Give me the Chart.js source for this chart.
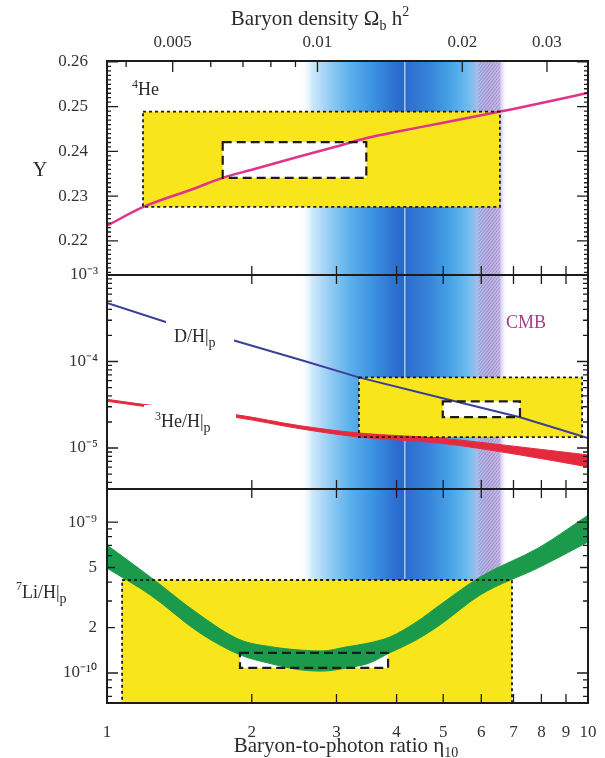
<!DOCTYPE html>
<html>
<head>
<meta charset="utf-8">
<script src="https://cdn.jsdelivr.net/npm/chart.js@4/dist/chart.umd.min.js"></script>
<style>
  html, body { margin: 0; padding: 0; background: #fff; }
  #wrap { position: relative; width: 605px; height: 758px; }
</style>
</head>
<body>
<div id="wrap"><canvas id="bbn" width="605" height="758"></canvas></div>
<script>
const FONT = "'Liberation Serif', 'Times New Roman', serif";

// axes
const etaTicks = [1, 2, 3, 4, 5, 6, 7, 8, 9, 10];
const omegaTicks = [0.005, 0.01, 0.02, 0.03];
const omegaMinor = [0.004, 0.006, 0.007, 0.008, 0.009];
const heTicks = [0.22, 0.23, 0.24, 0.25, 0.26];
const dTicks = [1e-3, 1e-4, 1e-5];
const liTicks = [1e-9, 5e-10, 2e-10, 1e-10];
const liTickLabels = ['10⁻⁹', '5', '2', '10⁻¹⁰'];

// 4He mass fraction
const heEta = [1, 1.19, 1.5, 1.74, 2, 2.5, 3, 3.47, 4, 5, 6, 7, 8, 9, 10];
const heY = [0.2234, 0.2276, 0.2315, 0.2341, 0.2359, 0.2388, 0.2411, 0.2430, 0.2444, 0.2464, 0.2481, 0.2495, 0.2508, 0.2520, 0.2531];

// D/H
const dEta = [1, 1.32, 1.845, 2.52, 3.34, 4.99, 7.22, 10];
const dH = [4.76e-4, 2.88e-4, 1.74e-4, 1.05e-4, 6.55e-5, 3.76e-5, 2.27e-5, 1.30e-5];

// 3He/H band
const he3Eta = [1, 1.188, 1.863, 2.52, 3.34, 4.92, 7.22, 10];
const he3Hi = [3.66e-5, 3.20e-5, 2.42e-5, 1.81e-5, 1.49e-5, 1.30e-5, 1.03e-5, 8.32e-6];
const he3Lo = [3.47e-5, 3.04e-5, 2.25e-5, 1.67e-5, 1.34e-5, 1.14e-5, 8.32e-6, 6.05e-6];

// 7Li/H band
const liEta = [1, 1.23, 1.56, 1.89, 2.2, 2.52, 2.8, 3.15, 3.5, 3.87, 4.4, 4.92, 5.97, 7.94, 10];
const liHi = [7.04e-10, 4.33e-10, 2.42e-10, 1.66e-10, 1.49e-10, 1.42e-10, 1.40e-10, 1.49e-10, 1.58e-10, 1.73e-10, 2.18e-10, 2.82e-10, 4.33e-10, 6.82e-10, 1.11e-9];
const liLo = [4.95e-10, 3.29e-10, 1.84e-10, 1.32e-10, 1.15e-10, 1.05e-10, 1.03e-10, 1.08e-10, 1.16e-10, 1.36e-10, 1.66e-10, 2.08e-10, 3.29e-10, 5.03e-10, 7.38e-10];

// observation boxes (yellow) and fit boxes (dashed)
const heObsEta = [1.188, 6.56], heObsY = [0.2276, 0.2489];
const heFitEta = [1.74, 3.46], heFitY = [0.2341, 0.2421];
const dObsEta = [3.34, 9.72], dObsY = [1.34e-5, 6.55e-5];
const dFitEta = [4.99, 7.22], dFitY = [2.27e-5, 3.47e-5];
const liObsEta = [1.075, 6.95], liObsY = [6.33e-11, 4.13e-10];
const liFitEta = [1.89, 3.84], liFitY = [1.08e-10, 1.36e-10];

// concordance band and CMB
const bandEta = [2.52, 6.79];
const cmbEta = [5.91, 6.56];
const bandPeakEta = 4.16;

const pts = (xs, ys) => xs.map((v, i) => ({x: v, y: ys[i]}));
const SUP = {'-': '⁻', '0': '⁰', '1': '¹', '2': '²', '3': '³', '4': '⁴', '5': '⁵', '6': '⁶', '7': '⁷', '8': '⁸', '9': '⁹'};
const sup = n => String(n).split('').map(c => SUP[c]).join('');

function drawRich(ctx, parts, x, y, align) {
    let w = 0;
    parts.forEach(p => { ctx.font = p[1] + 'px ' + FONT; w += ctx.measureText(p[0]).width; });
    let cx = align === 'center' ? x - w / 2 : x;
    parts.forEach(p => {
        ctx.font = p[1] + 'px ' + FONT;
        ctx.fillText(p[0], cx, y + (p[2] || 0));
        cx += ctx.measureText(p[0]).width;
    });
    return w;
}

function boxPix(xs, ey, ex, ey2) {
    const l = xs.getPixelForValue(ex[0]), r = xs.getPixelForValue(ex[1]);
    const b = ey.getPixelForValue(ey2[0]), t = ey.getPixelForValue(ey2[1]);
    return {l, r, t, b};
}

const decor = {
    id: 'decor',
    beforeDatasetsDraw(chart) {
        const {ctx, chartArea: a, scales: {x, y1, y2, y3}} = chart;
        ctx.save();

        // blue concordance band
        const x0 = x.getPixelForValue(bandEta[0]), x1 = x.getPixelForValue(bandEta[1]);
        const g = ctx.createLinearGradient(x0, 0, x1, 0);
        const stops = [
            [2.52, 'rgba(255,255,255,0)'], [2.67, '#cde8fb'], [2.91, '#93ccf4'], [3.2, '#5cb0eb'],
            [3.61, '#3a8fe0'], [3.97, '#2d70d0'], [4.12, '#2b67cb'], [4.2, '#2e6dcf'],
            [4.69, '#3684d9'], [5.16, '#47a2e6'], [5.63, '#6dbcef'], [5.91, '#a9bde9'],
            [6.2, '#b9ade0'], [6.56, '#c6bce6'], [6.79, 'rgba(255,255,255,0)']
        ];
        stops.forEach(([e, c]) => g.addColorStop((x.getPixelForValue(e) - x0) / (x1 - x0), c));
        ctx.fillStyle = g;
        ctx.fillRect(x0, a.top, x1 - x0, a.bottom - a.top);

        // CMB hatch
        const h0 = x.getPixelForValue(cmbEta[0]), h1 = x.getPixelForValue(cmbEta[1]);
        ctx.save();
        ctx.beginPath(); ctx.rect(h0, a.top, h1 - h0, a.bottom - a.top); ctx.clip();
        ctx.strokeStyle = 'rgba(130,110,185,0.5)'; ctx.lineWidth = 1;
        ctx.beginPath();
        for (let k = a.top - 40; k < a.bottom + 40; k += 4) {
            ctx.moveTo(h0 - 5, k + 20); ctx.lineTo(h1 + 5, k - 20);
        }
        ctx.stroke();
        ctx.restore();

        // thin central line
        const pc = x.getPixelForValue(bandPeakEta);
        ctx.strokeStyle = '#a5c8f0'; ctx.lineWidth = 1.5;
        ctx.beginPath(); ctx.moveTo(pc, a.top); ctx.lineTo(pc, a.bottom); ctx.stroke();

        // yellow observation boxes
        ctx.fillStyle = '#f8e51c';
        [[y1, heObsEta, heObsY], [y2, dObsEta, dObsY], [y3, liObsEta, liObsY]].forEach(([s, ex, ey]) => {
            const b = boxPix(x, s, ex, ey);
            ctx.fillRect(b.l, b.t, b.r - b.l, b.b - b.t);
        });
        // white inner boxes
        ctx.fillStyle = '#ffffff';
        [[y1, heFitEta, heFitY], [y2, dFitEta, dFitY], [y3, liFitEta, liFitY]].forEach(([s, ex, ey]) => {
            const b = boxPix(x, s, ex, ey);
            ctx.fillRect(b.l, b.t, b.r - b.l, b.b - b.t);
        });
        ctx.restore();
    },
    afterDatasetsDraw(chart) {
        const {ctx, chartArea: a, scales: {x, x2, y1, y2, y3}} = chart;
        ctx.save();
        ctx.strokeStyle = '#1c1c1c';

        // dotted borders of observation boxes
        ctx.lineWidth = 1.8; ctx.setLineDash([3, 3]);
        [[y1, heObsEta, heObsY], [y2, dObsEta, dObsY], [y3, liObsEta, liObsY]].forEach(([s, ex, ey]) => {
            const b = boxPix(x, s, ex, ey);
            ctx.strokeRect(b.l, b.t, b.r - b.l, b.b - b.t);
        });
        // dashed fit boxes
        ctx.lineWidth = 2.2; ctx.setLineDash([9, 5]);
        [[y1, heFitEta, heFitY], [y2, dFitEta, dFitY], [y3, liFitEta, liFitY]].forEach(([s, ex, ey]) => {
            const b = boxPix(x, s, ex, ey);
            ctx.strokeRect(b.l, b.t, b.r - b.l, b.b - b.t);
        });
        ctx.setLineDash([]);

        // panel frames
        ctx.lineWidth = 2;
        [y1, y2, y3].forEach(s => ctx.strokeRect(a.left, s.top, a.right - a.left, s.bottom - s.top));

        // inward ticks
        ctx.lineWidth = 1.3;
        ctx.beginPath();
        const hTick = (py, len) => { ctx.moveTo(a.left, py); ctx.lineTo(a.left + len, py); ctx.moveTo(a.right, py); ctx.lineTo(a.right - len, py); };
        [y1, y2, y3].forEach((s, i) => {
            etaTicks.slice(1, -1).forEach(v => {
                const px = x.getPixelForValue(v);
                ctx.moveTo(px, s.bottom); ctx.lineTo(px, s.bottom - 9);
                if (i > 0) { ctx.moveTo(px, s.top); ctx.lineTo(px, s.top + 9); }
            });
        });
        omegaTicks.forEach(v => { const px = x2.getPixelForValue(v); ctx.moveTo(px, a.top); ctx.lineTo(px, a.top + 11); });
        omegaMinor.forEach(v => { const px = x2.getPixelForValue(v); ctx.moveTo(px, a.top); ctx.lineTo(px, a.top + 6); });
        for (let k = 213; k <= 260; k++) {
            hTick(y1.getPixelForValue(k / 1000), k % 10 === 0 ? 11 : 4);
        }
        for (let e = -6; e <= -3; e++) {
            for (let m = 1; m <= 9; m++) {
                const v = m * Math.pow(10, e);
                if (v >= y2.min && v <= y2.max * 1.0001) hTick(y2.getPixelForValue(v), m === 1 ? 11 : 5);
            }
        }
        for (let e = -11; e <= -9; e++) {
            for (let m = 1; m <= 9; m++) {
                const v = m * Math.pow(10, e);
                if (v >= y3.min && v <= y3.max) hTick(y3.getPixelForValue(v), m === 1 ? 11 : (m === 2 || m === 5) ? 8 : 5);
            }
        }
        ctx.stroke();

        // curve labels with white backing
        ctx.fillStyle = '#2a2a2a';
        ctx.textBaseline = 'alphabetic';
        ctx.save();
        ctx.fillStyle = '#fff';
        ctx.fillRect(166, 320, 68, 34);
        ctx.fillRect(144, 405, 92, 32);
        ctx.restore();
        drawRich(ctx, [['D/H', 18], ['|', 18], ['p', 14, 5]], 174, 342);
        drawRich(ctx, [['3', 12, -7], ['He/H', 18], ['|', 18], ['p', 14, 5]], 155, 427);
        drawRich(ctx, [['4', 12, -7], ['He', 18]], 132, 95);
        ctx.fillStyle = '#a83c86';
        drawRich(ctx, [['CMB', 18]], 506, 328);

        // axis titles
        ctx.fillStyle = '#2a2a2a';
        drawRich(ctx, [['Y', 20]], 40, 176, 'center');
        drawRich(ctx, [['7', 12, -8], ['Li/H', 18], ['|', 18], ['p', 14, 5]], 16, 598);
        drawRich(ctx, [['Baryon density Ω', 21], ['b', 14, 5], [' h', 21], ['2', 14, -9]], 320, 25, 'center');
        drawRich(ctx, [['Baryon-to-photon ratio η', 21], ['10', 14, 5]], 346, 752, 'center');
        ctx.restore();
    }
};

const tickFont = {family: FONT, size: 17};
const yBase = {
    position: 'left', stack: 'bbn', stackWeight: 1,
    grid: {display: false}, border: {display: false},
    afterFit: s => { s.width = 107; }
};

new Chart(document.getElementById('bbn'), {
    type: 'line',
    data: {
        datasets: [
            {label: '4He', data: pts(heEta, heY), yAxisID: 'y1', borderColor: '#e0338a', borderWidth: 2.5, cubicInterpolationMode: 'monotone'},
            {label: 'D/H', data: pts(dEta, dH), yAxisID: 'y2', borderColor: '#3c3f98', borderWidth: 2},
            {label: '3He/H low', data: pts(he3Eta, he3Lo), yAxisID: 'y2', borderColor: '#e62a3e', borderWidth: 1, cubicInterpolationMode: 'monotone'},
            {label: '3He/H high', data: pts(he3Eta, he3Hi), yAxisID: 'y2', borderColor: '#e62a3e', borderWidth: 1, cubicInterpolationMode: 'monotone', fill: '-1', backgroundColor: '#e62a3e'},
            {label: '7Li/H low', data: pts(liEta, liLo), yAxisID: 'y3', borderColor: '#1b9a4b', borderWidth: 1, cubicInterpolationMode: 'monotone'},
            {label: '7Li/H high', data: pts(liEta, liHi), yAxisID: 'y3', borderColor: '#1b9a4b', borderWidth: 1, cubicInterpolationMode: 'monotone', fill: '-1', backgroundColor: '#1b9a4b'}
        ]
    },
    options: {
        responsive: false, animation: false,
        elements: {point: {radius: 0}},
        layout: {padding: {left: 0, right: 17, top: 0, bottom: 0}},
        plugins: {legend: {display: false}, tooltip: {enabled: false}},
        scales: {
            x: {
                type: 'logarithmic', position: 'bottom', min: 1, max: 10,
                grid: {display: false}, border: {display: false},
                afterBuildTicks: s => { s.ticks = etaTicks.map(v => ({value: v})); },
                afterFit: s => { s.height = 55; s.paddingLeft = 0; s.paddingRight = 0; },
                ticks: {autoSkip: false, maxRotation: 0, padding: 11, color: '#333', font: tickFont, callback: v => String(v)}
            },
            x2: {
                type: 'logarithmic', position: 'top', min: 1 / 273.9, max: 10 / 273.9,
                grid: {display: false}, border: {display: false},
                afterBuildTicks: s => { s.ticks = omegaTicks.map(v => ({value: v})); },
                afterFit: s => { s.height = 61; s.paddingLeft = 0; s.paddingRight = 0; },
                ticks: {autoSkip: false, maxRotation: 0, padding: 0, color: '#333', font: tickFont, callback: v => String(v)}
            },
            // stacked panels are placed bottom-up, so the lowest panel comes first
            y3: Object.assign({}, yBase, {
                type: 'logarithmic', min: 6.33e-11, max: 1.655e-9,
                afterBuildTicks: s => { s.ticks = liTicks.map(v => ({value: v})); },
                ticks: {autoSkip: false, padding: 2, color: '#333', font: tickFont, callback: (v, i) => liTickLabels[i]}
            }),
            y2: Object.assign({}, yBase, {
                type: 'logarithmic', min: 3.36e-6, max: 1e-3,
                afterBuildTicks: s => { s.ticks = dTicks.map(v => ({value: v})); },
                ticks: {autoSkip: false, padding: 1, color: '#333', font: tickFont, callback: v => '10' + sup(Math.round(Math.log10(v)))}
            }),
            y1: Object.assign({}, yBase, {
                type: 'linear', min: 0.2124, max: 0.2602,
                afterBuildTicks: s => { s.ticks = heTicks.map(v => ({value: v})); },
                ticks: {autoSkip: false, padding: 11, color: '#333', font: tickFont, callback: v => v.toFixed(2)}
            })
        }
    },
    plugins: [decor]
});
</script>
</body>
</html>
